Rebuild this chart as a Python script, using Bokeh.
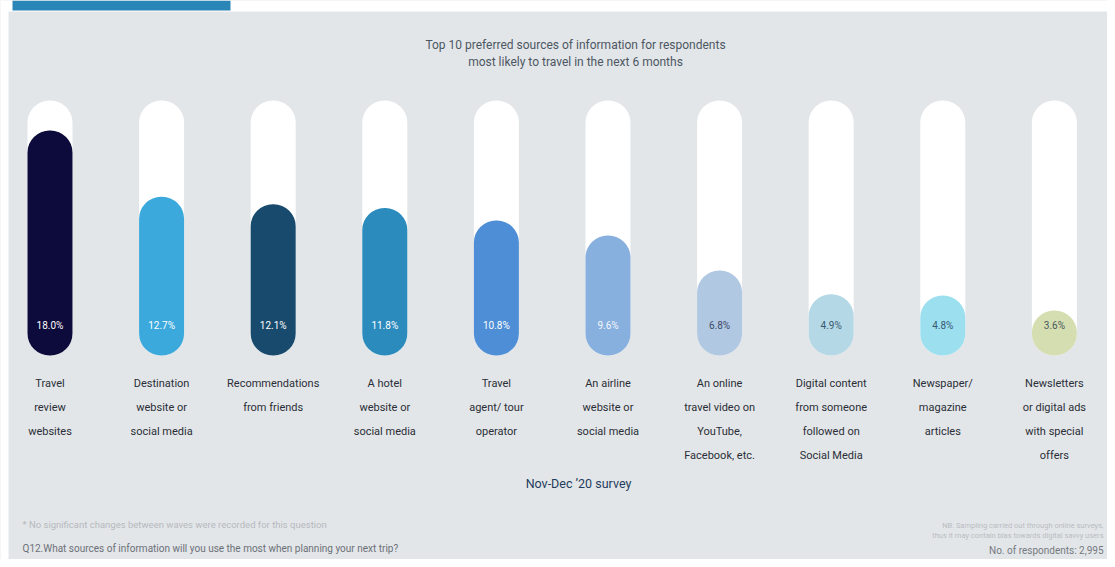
from bokeh.plotting import figure
from bokeh.models import Range1d, Label, BoxAnnotation, ColumnDataSource
from bokeh.embed import file_html
from bokeh.resources import INLINE
from bokeh.core.properties import value

# ---------------- data ----------------
categories = [
    "Travel\nreview\nwebsites",
    "Destination\nwebsite or\nsocial media",
    "Recommendations\nfrom friends",
    "A hotel\nwebsite or\nsocial media",
    "Travel\nagent/ tour\noperator",
    "An airline\nwebsite or\nsocial media",
    "An online\ntravel video on\nYouTube,\nFacebook, etc.",
    "Digital content\nfrom someone\nfollowed on\nSocial Media",
    "Newspaper/\nmagazine\narticles",
    "Newsletters\nor digital ads\nwith special\noffers",
]
shares = [18.0, 12.7, 12.1, 11.8, 10.8, 9.6, 6.8, 4.9, 4.8, 3.6]
share_labels = ["18.0%", "12.7%", "12.1%", "11.8%", "10.8%", "9.6%", "6.8%", "4.9%", "4.8%", "3.6%"]
track_max = 20.4

bar_colors = ["#0d0b3b", "#3ba9dc", "#184a6d", "#2b8bbd", "#4e8ed6",
              "#87b0df", "#b1c8e3", "#b4d8e5", "#9ce0f0", "#d5deb1"]
label_colors = ["#ffffff", "#ffffff", "#ffffff", "#ffffff", "#ffffff",
                "#f2f6fb", "#3d4b68", "#3a5870", "#3a5870", "#4a5a5a"]

# ---------------- layout helpers ----------------
W, H = 1107, 559
X0, X1 = 0.0565, 9.976
Y0, Y1 = -16.32, 28.4


def px(x):
    return X0 + x / W * (X1 - X0)


def py(y):
    return Y1 - y / H * (Y1 - Y0)


xs = [i + 0.5 for i in range(len(categories))]
src = ColumnDataSource(dict(
    x=xs, share=shares, track=[track_max] * len(xs), color=bar_colors,
    lab=share_labels, labcol=label_colors, cat=categories,
))

p = figure(width=W, height=H, output_backend="svg", toolbar_location=None,
           x_range=Range1d(X0, X1), y_range=Range1d(Y0, Y1),
           min_border=0, outline_line_color=None,
           background_fill_color="#e3e6e9", border_fill_color="#ffffff")
p.axis.visible = False
p.grid.visible = False

# white margins on top / left and the blue tab
p.add_layout(BoxAnnotation(bottom=py(11), fill_color="#ffffff", fill_alpha=1,
                           line_color=None, level="underlay"))
p.add_layout(BoxAnnotation(right=px(8), fill_color="#ffffff", fill_alpha=1,
                           line_color=None, level="underlay"))
p.add_layout(BoxAnnotation(bottom=py(10), left=px(12), right=px(230),
                           fill_color="#2a86b6", fill_alpha=1, line_color=None,
                           level="underlay"))

bw = 45 / (W / (X1 - X0))
p.vbar(x="x", top="track", bottom=0, width=bw, source=src,
       fill_color="#ffffff", line_color=None, border_radius=22)
p.vbar(x="x", top="share", bottom=0, width=bw, source=src,
       fill_color="color", line_color=None, border_radius=22)

p.text(x="x", y=0, text="lab", source=src, y_offset=-30,
       text_color="labcol", text_font=value("Roboto"), text_font_size="10px",
       text_align="center", text_baseline="middle")

p.text(x="x", y=py(376), text="cat", source=src,
       text_color="#2a2e36", text_font=value("Roboto"), text_font_size="11px",
       text_align="center", text_baseline="top", text_line_height=1.87)

# titles and notes
for line, yy in [("Top 10 preferred sources of information for respondents", 44),
                 ("most likely to travel in the next 6 months", 61)]:
    p.add_layout(Label(x=px(575), y=py(yy), text=line, text_align="center",
                       text_baseline="middle", text_font="Roboto",
                       text_font_size="12px", text_color="#4d5763"))

p.add_layout(Label(x=px(578), y=py(483), text="Nov-Dec \u201920 survey",
                   text_align="center", text_baseline="middle", text_font="Roboto",
                   text_font_size="12.5px", text_color="#1f3d5c"))

p.add_layout(Label(x=px(22), y=py(524),
                   text="* No significant changes between waves were recorded for this question",
                   text_baseline="middle", text_font="Roboto", text_font_size="9.5px",
                   text_color="#b5b9be"))
p.add_layout(Label(x=px(22), y=py(548),
                   text="Q12.What sources of information will you use the most when planning your next trip?",
                   text_baseline="middle", text_font="Roboto", text_font_size="10px",
                   text_color="#6b7077"))

p.add_layout(Label(x=px(1103), y=py(525),
                   text="NB: Sampling carried out through online surveys,",
                   text_align="right", text_baseline="middle", text_font="Roboto",
                   text_font_size="7.5px", text_color="#b8bcc1"))
p.add_layout(Label(x=px(1103), y=py(535),
                   text="thus it may contain bias towards digital savvy users",
                   text_align="right", text_baseline="middle", text_font="Roboto",
                   text_font_size="7.5px", text_color="#b8bcc1"))
p.add_layout(Label(x=px(1103), y=py(550),
                   text="No. of respondents: 2,995",
                   text_align="right", text_baseline="middle", text_font="Roboto",
                   text_font_size="10px", text_color="#757a81"))

open("out.html", "w").write(file_html(p, INLINE))
